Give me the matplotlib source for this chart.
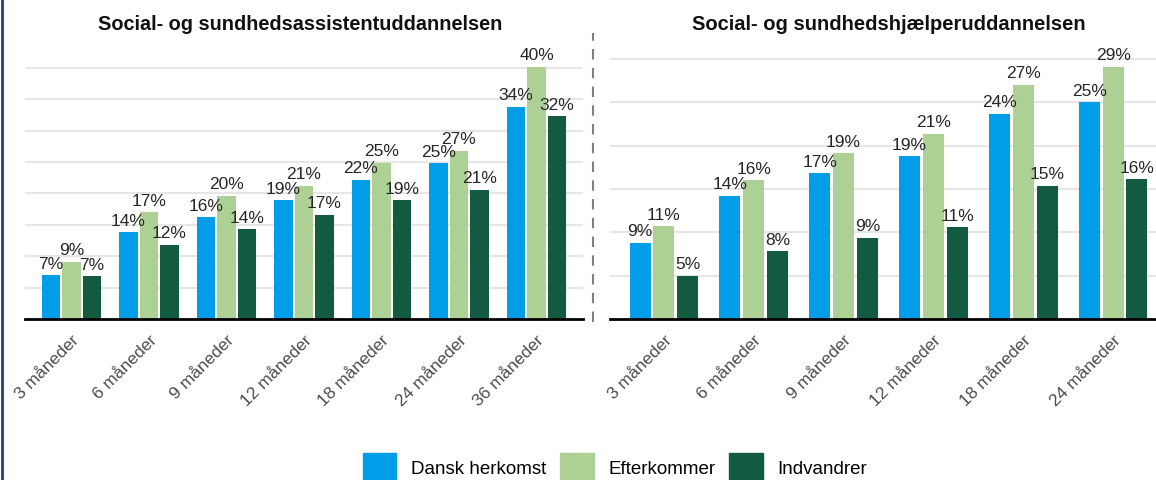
import matplotlib.pyplot as plt
import numpy as np
from matplotlib.lines import Line2D
from matplotlib.patches import Patch

plt.rcParams['font.family'] = ['Liberation Sans', 'DejaVu Sans']

# data
serier = ['Dansk herkomst', 'Efterkommer', 'Indvandrer']
farver = ['#009ee8', '#add095', '#135b40']

ssa_kat = ['3 måneder', '6 måneder', '9 måneder', '12 måneder', '18 måneder', '24 måneder', '36 måneder']
ssa_dansk = [7.0, 13.8, 16.2, 18.9, 22.2, 24.8, 33.8]
ssa_efterk = [9.1, 17.0, 19.6, 21.2, 24.9, 26.8, 40.2]
ssa_indv = [6.8, 11.8, 14.3, 16.6, 18.9, 20.6, 32.3]

ssh_kat = ['3 måneder', '6 måneder', '9 måneder', '12 måneder', '18 måneder', '24 måneder']
ssh_dansk = [8.8, 14.2, 16.8, 18.8, 23.7, 25.0]
ssh_efterk = [10.7, 16.0, 19.1, 21.4, 27.0, 29.1]
ssh_indv = [5.0, 7.8, 9.4, 10.6, 15.4, 16.1]

W, H = 1156, 480
fig = plt.figure(figsize=(W / 100, H / 100), dpi=100)


def px(x0, y_top, x1, y_bot):
    return [x0 / W, 1 - y_bot / H, (x1 - x0) / W, (y_bot - y_top) / H]


def panel(ax, kat, vaerdier, ymax, ticks):
    x = np.arange(len(kat))
    for i, (v, c) in enumerate(zip(vaerdier, farver)):
        b = ax.bar(x + (i - 1) * 0.265, v, width=0.235, color=c, zorder=3)
        ax.bar_label(b, labels=[f'{round(t)}%' for t in v], padding=2.5,
                     fontsize=12.5, color='#262626', zorder=4)
    ax.set_xlim(-0.6, len(kat) - 0.4)
    ax.set_ylim(0, ymax)
    ax.set_yticks(ticks)
    ax.yaxis.grid(True, color='#e6e6e6', linewidth=1.5, zorder=0)
    ax.tick_params(axis='y', left=False, labelleft=False)
    ax.tick_params(axis='x', length=0, pad=10)
    ax.set_xticks(x)
    ax.set_xticklabels(kat, rotation=45, ha='right', va='top',
                       rotation_mode='anchor', fontsize=12.5, color='#4d4d4d')
    for s in ['top', 'right', 'left']:
        ax.spines[s].set_visible(False)
    ax.spines['bottom'].set_color('black')
    ax.spines['bottom'].set_linewidth(2)
    ax.spines['bottom'].set_zorder(5)


ax1 = fig.add_axes(px(25, 49, 583, 319))
panel(ax1, ssa_kat, [ssa_dansk, ssa_efterk, ssa_indv], 43.0, range(5, 45, 5))

ax2 = fig.add_axes(px(610, 49, 1167, 319))
panel(ax2, ssh_kat, [ssh_dansk, ssh_efterk, ssh_indv], 31.15, range(5, 35, 5))

# titler
fig.text(300 / W, 1 - 24 / H, 'Social- og sundhedsassistentuddannelsen',
         ha='center', va='center', fontsize=14.3, fontweight='bold', color='#111111')
fig.text(889 / W, 1 - 24 / H, 'Social- og sundhedshjælperuddannelsen',
         ha='center', va='center', fontsize=14.5, fontweight='bold', color='#111111')

# stiplet skillelinje og ramme
fig.add_artist(Line2D([593 / W, 593 / W], [1 - 322 / H, 1 - 33 / H],
                      color='#808080', linestyle=(0, (5, 4)), linewidth=1.5))
fig.add_artist(Line2D([2 / W, 2 / W], [0, 1], color='#1f3f7f', linewidth=2))

handles = [Patch(color=c) for c in farver]
fig.legend(handles, serier, loc='center', bbox_to_anchor=(615 / W, 1 - 468 / H),
           ncol=3, frameon=False, fontsize=13.5, handlelength=1.8,
           handleheight=2.1, columnspacing=0.7, handletextpad=0.8)

fig.savefig('out.png', dpi=100)
